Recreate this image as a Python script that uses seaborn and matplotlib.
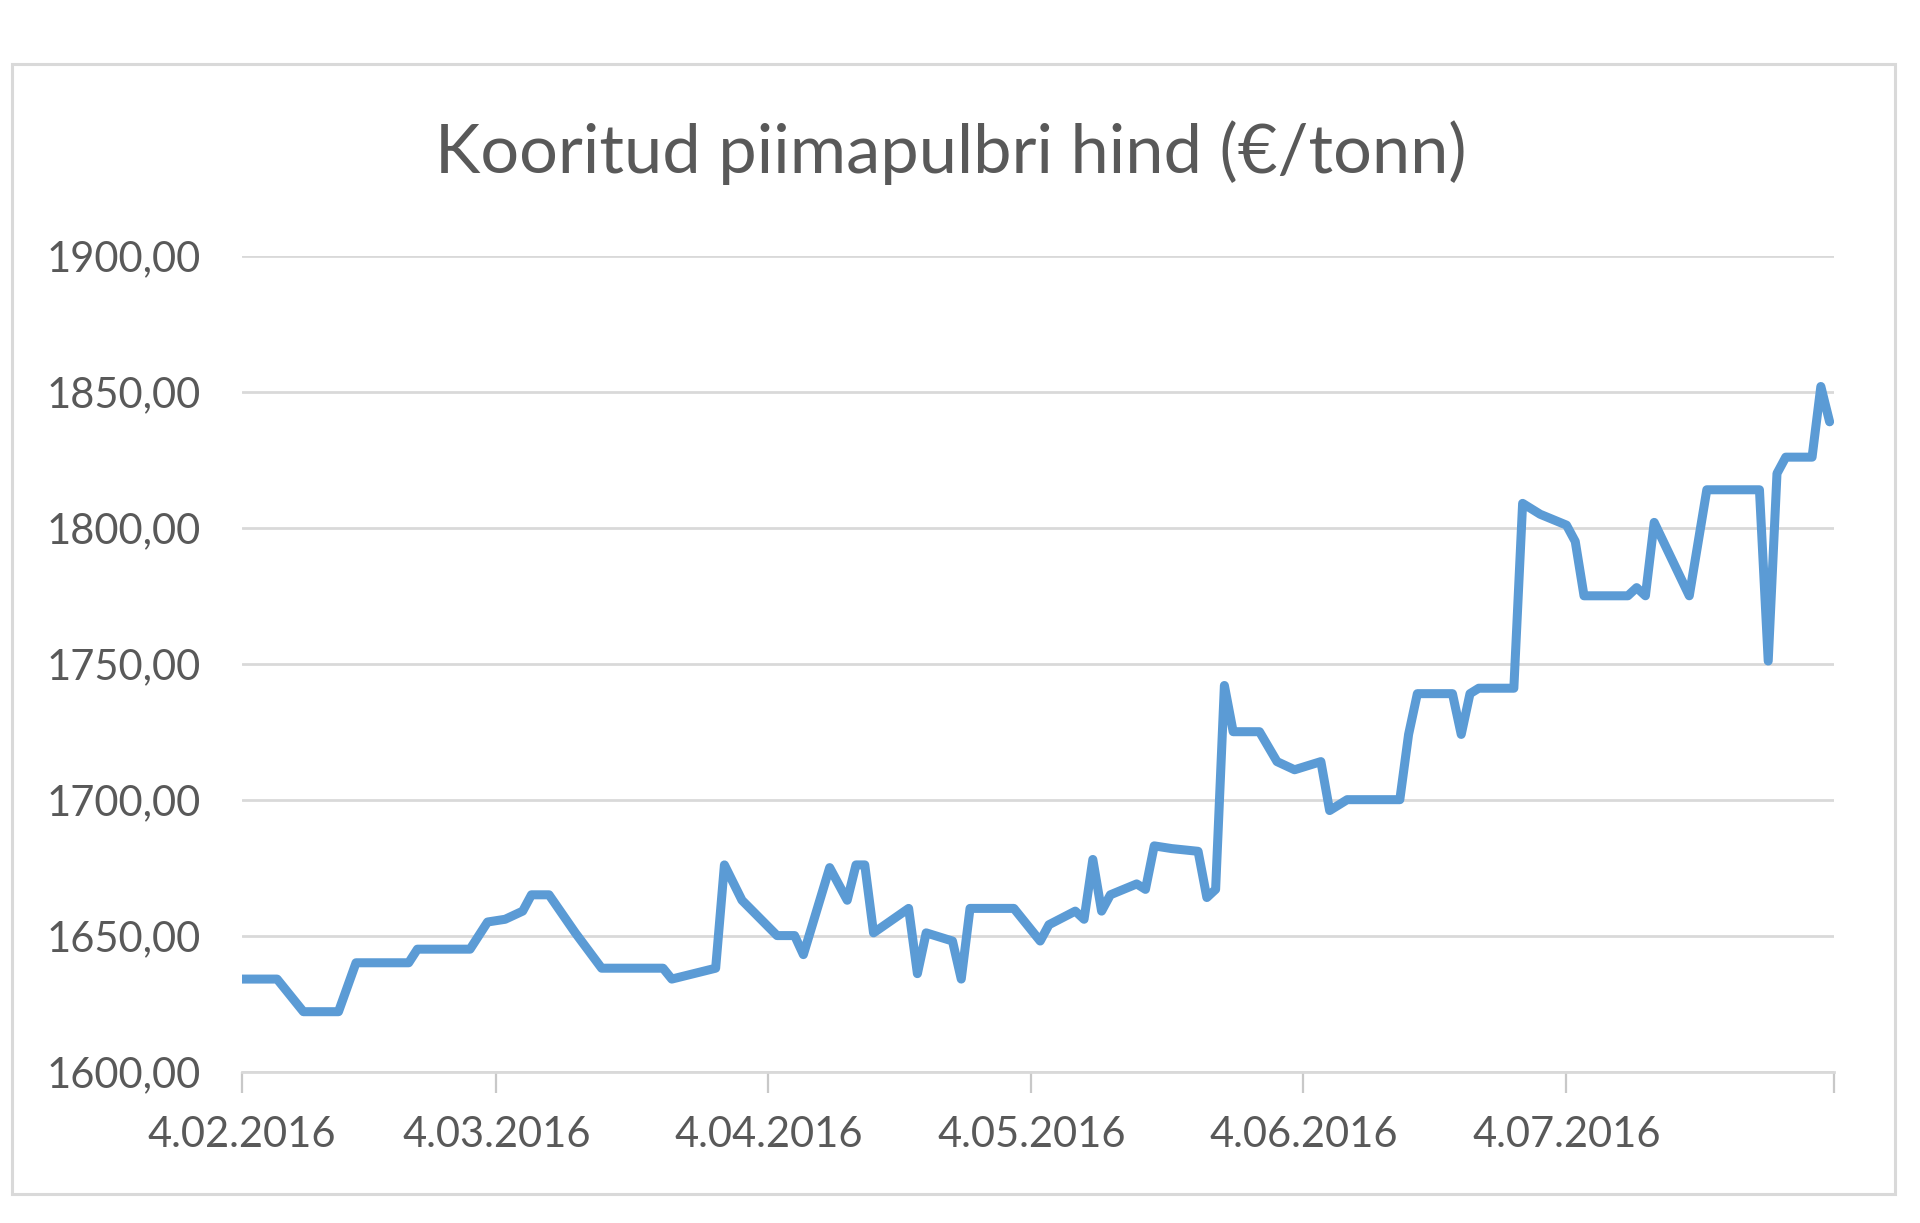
import matplotlib
matplotlib.use("Agg")
import matplotlib.pyplot as plt
import matplotlib.dates as mdates
from matplotlib.patches import Rectangle
import seaborn as sns
import pandas as pd

# ---- data ----
start_date = "2016-02-04"
day_offsets = [0, 4, 7, 11, 13, 19, 20, 26, 28, 30,
               32, 33, 35, 38, 41, 48, 49, 54, 55, 57,
               61, 63, 64, 67, 69, 70, 71, 72, 76, 77,
               78, 81, 82, 83, 88, 91, 92, 95, 96, 97,
               98, 99, 102, 103, 104, 106, 109, 110, 111, 112,
               113, 116, 118, 120, 123, 124, 126, 132, 133, 134,
               138, 139, 140, 141, 145, 146, 148, 151, 152, 153,
               158, 159, 160, 161, 165, 167, 173, 174, 175, 176,
               179, 180, 181]
prices = [1634, 1634, 1622, 1622, 1640, 1640, 1645, 1645, 1655, 1656,
          1659, 1665, 1665, 1651, 1638, 1638, 1634, 1638, 1676, 1663,
          1650, 1650, 1643, 1675, 1663, 1676, 1676, 1651, 1660, 1636,
          1651, 1648, 1634, 1660, 1660, 1648, 1654, 1659, 1656, 1678,
          1659, 1665, 1669, 1667, 1683, 1682, 1681, 1664, 1667, 1742,
          1725, 1725, 1714, 1711, 1714, 1696, 1700, 1700, 1724, 1739,
          1739, 1724, 1739, 1741, 1741, 1809, 1805, 1801, 1795, 1775,
          1775, 1778, 1775, 1802, 1775, 1814, 1814, 1751, 1820, 1826,
          1826, 1852, 1839]
x_tick_dates = ["2016-02-04", "2016-03-04", "2016-04-04", "2016-05-04",
                "2016-06-04", "2016-07-04"]
x_tick_labels = ["4.02.2016", "4.03.2016", "4.04.2016", "4.05.2016",
                 "4.06.2016", "4.07.2016"]
y_ticks = [1600, 1650, 1700, 1750, 1800, 1850, 1900]
y_tick_labels = ["1600,00", "1650,00", "1700,00", "1750,00", "1800,00",
                 "1850,00", "1900,00"]
title_text = "Kooritud piimapulbri hind (€/tonn)"

t0 = pd.Timestamp(start_date)
df = pd.DataFrame({
    "date": t0 + pd.to_timedelta(day_offsets, unit="D"),
    "price": prices,
})

# ---- style ----
sns.set_theme(style="white")
plt.rcParams["font.family"] = ["Lato", "DejaVu Sans"]

TEXT = "#595959"
GRID = "#d9d9d9"
TICK = "#c8c8c8"
LINE = "#5B9BD5"

fig = plt.figure(figsize=(19.2, 12.23), dpi=100)
fig.patch.set_facecolor("white")

# chart-area border
fig.patches.append(Rectangle((12 / 1920, 1 - 1194 / 1223),
                             (1895 - 12) / 1920, (1194 - 64) / 1223,
                             transform=fig.transFigure, fill=False,
                             edgecolor=GRID, linewidth=2.2, zorder=0))

ax = fig.add_axes([242 / 1920, 1 - 1071.5 / 1223,
                   (1834 - 242) / 1920, (1071.5 - 256) / 1223])
ax.set_facecolor("white")

sns.lineplot(data=df, x="date", y="price", ax=ax, color=LINE,
             linewidth=6.5, solid_joinstyle="round", solid_capstyle="round",
             zorder=3)

ax.set_ylim(1600, 1900)
ax.set_yticks(y_ticks)
ax.set_yticklabels(y_tick_labels)
ax.set_xlim(t0, t0 + pd.Timedelta(days=181.5))

tick_pos = [mdates.date2num(pd.Timestamp(d)) for d in x_tick_dates]
end_pos = mdates.date2num(t0 + pd.Timedelta(days=181.5))
ax.set_xticks(tick_pos + [end_pos])
ax.set_xticklabels(x_tick_labels + [""])

ax.grid(axis="y", color=GRID, linewidth=2.0, zorder=0)
ax.grid(axis="x", visible=False)
for s in ["top", "right", "left"]:
    ax.spines[s].set_visible(False)
ax.spines["bottom"].set_color(GRID)
ax.spines["bottom"].set_linewidth(2.0)

ax.tick_params(axis="y", left=False, length=0, pad=30, labelsize=30,
               labelcolor=TEXT)
ax.tick_params(axis="x", bottom=True, direction="out", length=15, width=1.6,
               color=TICK, pad=17, labelsize=30, labelcolor=TEXT)
ax.set_xlabel("")
ax.set_ylabel("")

fig.text(951 / 1920, 1 - 153 / 1223, title_text, ha="center", va="center",
         fontsize=49.3, color=TEXT)

fig.savefig("out.png", dpi=100, facecolor="white")
